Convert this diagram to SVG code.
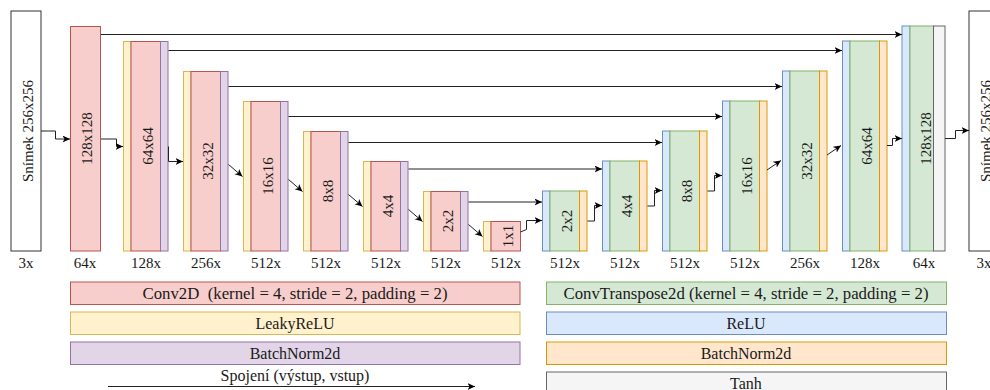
<svg xmlns="http://www.w3.org/2000/svg" width="990" height="390" viewBox="0 0 990 390">
  <defs>
    <marker id="arrow" markerUnits="userSpaceOnUse" markerWidth="9" markerHeight="8" refX="7.5" refY="3.5" orient="auto">
      <path d="M0,0 L7.5,3.5 L0,7 L2,3.5 Z" fill="#000"/>
    </marker>
  </defs>
  <style>
    text { font-family: "Liberation Serif", "DejaVu Serif", serif; font-size: 15px; fill: #1a1a1a; }
    .mid { text-anchor: middle; }
    .leg { font-size: 16px; }
    .img { fill: #ffffff; stroke: #333333; stroke-width: 1; }
    .conv { fill: #f8cecc; stroke: #b85450; stroke-width: 1; }
    .lrelu { fill: #fff2cc; stroke: #d6b656; stroke-width: 1; }
    .bnE { fill: #e1d5e7; stroke: #9673a6; stroke-width: 1; }
    .tconv { fill: #d5e8d4; stroke: #82b366; stroke-width: 1; }
    .relu { fill: #dae8fc; stroke: #6c8ebf; stroke-width: 1; }
    .bnD { fill: #ffe6cc; stroke: #d79b00; stroke-width: 1; }
    .tanh { fill: #f5f5f5; stroke: #666666; stroke-width: 1; }
    .edge { fill: none; stroke: #222222; stroke-width: 1; marker-end: url(#arrow); }
  </style>

  <!-- input image -->
  <g id="input">
    <rect class="img" x="11" y="11" width="30" height="240"/>
    <text class="mid" transform="translate(33,131) rotate(-90)">Snímek 256x256</text>
    <text class="mid" x="26" y="268">3x</text>
  </g>

  <!-- encoder -->
  <g id="enc1">
    <rect class="conv" x="70.5" y="26.5" width="30" height="224.5"/>
    <text class="mid" transform="translate(92,138.5) rotate(-90)">128x128</text>
    <text class="mid" x="85" y="268">64x</text>
  </g>
  <g id="enc2">
    <rect class="lrelu" x="123.5" y="41.5" width="7.5" height="209.5"/>
    <rect class="conv" x="131" y="41.5" width="29.5" height="209.5"/>
    <rect class="bnE" x="160.5" y="41.5" width="7.5" height="209.5"/>
    <text class="mid" transform="translate(153,146) rotate(-90)">64x64</text>
    <text class="mid" x="146" y="268">128x</text>
  </g>
  <g id="enc3">
    <rect class="lrelu" x="183.5" y="71.5" width="7.5" height="179.5"/>
    <rect class="conv" x="191" y="71.5" width="29.5" height="179.5"/>
    <rect class="bnE" x="220.5" y="71.5" width="7.5" height="179.5"/>
    <text class="mid" transform="translate(213,161) rotate(-90)">32x32</text>
    <text class="mid" x="206" y="268">256x</text>
  </g>
  <g id="enc4">
    <rect class="lrelu" x="243.5" y="101.5" width="7.5" height="149.5"/>
    <rect class="conv" x="251" y="101.5" width="29.5" height="149.5"/>
    <rect class="bnE" x="280.5" y="101.5" width="7.5" height="149.5"/>
    <text class="mid" transform="translate(273,176) rotate(-90)">16x16</text>
    <text class="mid" x="266" y="268">512x</text>
  </g>
  <g id="enc5">
    <rect class="lrelu" x="303.5" y="131.5" width="7.5" height="119.5"/>
    <rect class="conv" x="311" y="131.5" width="29.5" height="119.5"/>
    <rect class="bnE" x="340.5" y="131.5" width="7.5" height="119.5"/>
    <text class="mid" transform="translate(333,191) rotate(-90)">8x8</text>
    <text class="mid" x="326" y="268">512x</text>
  </g>
  <g id="enc6">
    <rect class="lrelu" x="363.5" y="161.5" width="7.5" height="89.5"/>
    <rect class="conv" x="371" y="161.5" width="29.5" height="89.5"/>
    <rect class="bnE" x="400.5" y="161.5" width="7.5" height="89.5"/>
    <text class="mid" transform="translate(393,206) rotate(-90)">4x4</text>
    <text class="mid" x="386" y="268">512x</text>
  </g>
  <g id="enc7">
    <rect class="lrelu" x="423.5" y="191.5" width="7.5" height="59.5"/>
    <rect class="conv" x="431" y="191.5" width="29.5" height="59.5"/>
    <rect class="bnE" x="460.5" y="191.5" width="7.5" height="59.5"/>
    <text class="mid" transform="translate(453,221) rotate(-90)">2x2</text>
    <text class="mid" x="446" y="268">512x</text>
  </g>
  <g id="enc8">
    <rect class="lrelu" x="483.5" y="221.5" width="7.5" height="29.5"/>
    <rect class="conv" x="491" y="221.5" width="29.5" height="29.5"/>
    <text class="mid" transform="translate(513,236) rotate(-90)">1x1</text>
    <text class="mid" x="506" y="268">512x</text>
  </g>

  <!-- decoder -->
  <g id="dec1">
    <rect class="relu" x="542.5" y="191" width="7.5" height="60"/>
    <rect class="tconv" x="550" y="191" width="29.5" height="60"/>
    <rect class="bnD" x="579.5" y="191" width="7.5" height="60"/>
    <text class="mid" transform="translate(572,221) rotate(-90)">2x2</text>
    <text class="mid" x="565" y="268">512x</text>
  </g>
  <g id="dec2">
    <rect class="relu" x="602.5" y="161" width="7.5" height="90"/>
    <rect class="tconv" x="610" y="161" width="29.5" height="90"/>
    <rect class="bnD" x="639.5" y="161" width="7.5" height="90"/>
    <text class="mid" transform="translate(632,206) rotate(-90)">4x4</text>
    <text class="mid" x="625" y="268">512x</text>
  </g>
  <g id="dec3">
    <rect class="relu" x="662.5" y="131" width="7.5" height="120"/>
    <rect class="tconv" x="670" y="131" width="29.5" height="120"/>
    <rect class="bnD" x="699.5" y="131" width="7.5" height="120"/>
    <text class="mid" transform="translate(692,191) rotate(-90)">8x8</text>
    <text class="mid" x="685" y="268">512x</text>
  </g>
  <g id="dec4">
    <rect class="relu" x="722.5" y="101" width="7.5" height="150"/>
    <rect class="tconv" x="730" y="101" width="29.5" height="150"/>
    <rect class="bnD" x="759.5" y="101" width="7.5" height="150"/>
    <text class="mid" transform="translate(752,176) rotate(-90)">16x16</text>
    <text class="mid" x="745" y="268">512x</text>
  </g>
  <g id="dec5">
    <rect class="relu" x="782.5" y="71" width="7.5" height="180"/>
    <rect class="tconv" x="790" y="71" width="29.5" height="180"/>
    <rect class="bnD" x="819.5" y="71" width="7.5" height="180"/>
    <text class="mid" transform="translate(812,161) rotate(-90)">32x32</text>
    <text class="mid" x="805" y="268">256x</text>
  </g>
  <g id="dec6">
    <rect class="relu" x="842.5" y="41" width="7.5" height="210"/>
    <rect class="tconv" x="850" y="41" width="29.5" height="210"/>
    <rect class="bnD" x="879.5" y="41" width="7.5" height="210"/>
    <text class="mid" transform="translate(872,146) rotate(-90)">64x64</text>
    <text class="mid" x="865" y="268">128x</text>
  </g>
  <g id="dec7">
    <rect class="relu" x="902" y="26" width="8" height="225"/>
    <rect class="tconv" x="910" y="26" width="23.5" height="225"/>
    <rect class="tanh" x="933.5" y="26" width="11.5" height="225"/>
    <text class="mid" transform="translate(931,138.5) rotate(-90)">128x128</text>
    <text class="mid" x="924" y="268">64x</text>
  </g>

  <!-- output image -->
  <g id="output">
    <rect class="img" x="969" y="11" width="30" height="240"/>
    <text class="mid" transform="translate(991,131) rotate(-90)">Snímek 256x256</text>
    <text class="mid" x="984" y="268">3x</text>
  </g>

  <!-- connectors -->
  <g id="connectors">
    <!-- forward path -->
    <polyline class="edge" points="41,131 55.5,131 55.5,139 70,139"/>
    <polyline class="edge" points="101,139 116.5,139 116.5,146.5 123,146.5"/>
    <polyline class="edge" points="168.5,146.5 168.5,161.5 183,161.5"/>
    <polyline class="edge" points="228.5,164.5 242.5,176.5"/>
    <polyline class="edge" points="288.5,179.5 302.5,191.5"/>
    <polyline class="edge" points="348.5,194.5 362.5,206.5"/>
    <polyline class="edge" points="408.5,209.5 422.5,221.5"/>
    <polyline class="edge" points="468.5,224.5 482.5,236.5"/>
    <polyline class="edge" points="520.5,232 526.5,229.5 526.5,220.5 542,220.5"/>
    <polyline class="edge" points="587.5,221 594.5,221 594.5,205.5 602,205.5"/>
    <polyline class="edge" points="647.5,206 654.5,206 654.5,190.5 662,190.5"/>
    <polyline class="edge" points="707.5,191 714.5,191 714.5,175.5 722,175.5"/>
    <polyline class="edge" points="767,170 781,160.5"/>
    <polyline class="edge" points="827,155 841,145.5"/>
    <polyline class="edge" points="887,145.5 892.5,145.5 892.5,138.5 902,138.5"/>
    <polyline class="edge" points="945,138.5 955.5,138.5 955.5,130.5 969,130.5"/>
    <!-- skip connections -->
    <polyline class="edge" points="101,34.5 902,34.5"/>
    <polyline class="edge" points="168.5,50.5 842,50.5"/>
    <polyline class="edge" points="228.5,86.5 782,86.5"/>
    <polyline class="edge" points="288.5,116.5 722,116.5"/>
    <polyline class="edge" points="348.5,142.5 662,142.5"/>
    <polyline class="edge" points="408.5,169 602,169"/>
    <polyline class="edge" points="468.5,202 542,202"/>
  </g>

  <!-- legend -->
  <g id="legend-conv">
    <rect class="conv" x="70.5" y="282" width="449.5" height="22.5"/>
    <text class="mid leg" x="295" y="299" xml:space="preserve" textLength="305" lengthAdjust="spacingAndGlyphs">Conv2D  (kernel = 4, stride = 2, padding = 2)</text>
  </g>
  <g id="legend-lrelu">
    <rect class="lrelu" x="70.5" y="312" width="449.5" height="22.5"/>
    <text class="mid leg" x="295" y="329">LeakyReLU</text>
  </g>
  <g id="legend-bnE">
    <rect class="bnE" x="70.5" y="342" width="449.5" height="22.5"/>
    <text class="mid leg" x="295" y="359">BatchNorm2d</text>
  </g>
  <g id="legend-skip">
    <line class="edge" x1="108" y1="386.5" x2="475" y2="386.5"/>
    <text class="mid leg" x="295" y="381">Spojení (výstup, vstup)</text>
  </g>
  <g id="legend-tconv">
    <rect class="tconv" x="546.5" y="282" width="400" height="22.5"/>
    <text class="mid leg" x="746" y="299" textLength="365" lengthAdjust="spacingAndGlyphs">ConvTranspose2d (kernel = 4, stride = 2, padding = 2)</text>
  </g>
  <g id="legend-relu">
    <rect class="relu" x="546.5" y="312" width="400" height="22.5"/>
    <text class="mid leg" x="746" y="329">ReLU</text>
  </g>
  <g id="legend-bnD">
    <rect class="bnD" x="546.5" y="342" width="400" height="22.5"/>
    <text class="mid leg" x="746" y="359">BatchNorm2d</text>
  </g>
  <g id="legend-tanh">
    <rect class="tanh" x="546.5" y="372" width="400" height="24"/>
    <text class="mid leg" x="746" y="389">Tanh</text>
  </g>
</svg>
